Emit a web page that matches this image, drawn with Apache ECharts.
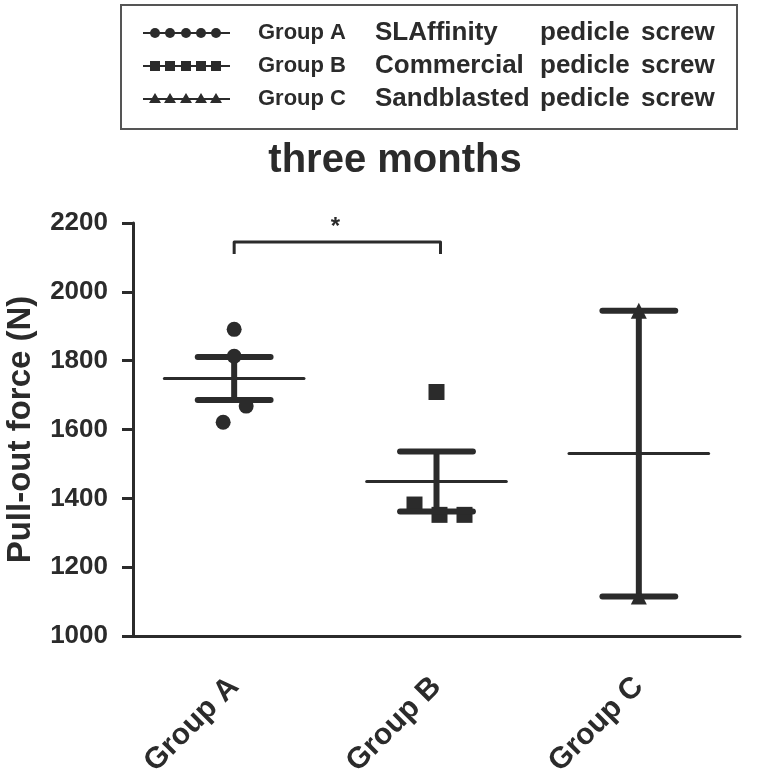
<!DOCTYPE html>
<html>
<head>
<meta charset="utf-8">
<script src="https://cdn.jsdelivr.net/npm/echarts@6/dist/echarts.min.js"></script>
<style>html,body{margin:0;padding:0;background:#fff}#c{width:757px;height:773px}</style>
</head>
<body>
<div id="c"></div>
<script>
// ---- data ----
const categories = ['Group A', 'Group B', 'Group C'];
const groupA = [1891, 1813, 1668, 1621];
const groupB = [1709, 1382, 1352, 1352];
const groupC = [1945, 1115];
const yMin = 1000, yMax = 2200, yStep = 200;
const legendGroups = ['Group A', 'Group B', 'Group C'];
const legendNames = ['SLAffinity', 'Commercial', 'Sandblasted'];
const legendTail1 = 'pedicle';
const legendTail2 = 'screw';
const chartTitle = 'three months';
const yTitle = 'Pull-out force (N)';
const sigFrom = 'Group A', sigTo = 'Group B', sigValue = 2145, sigLabel = '*';

// ---- style ----
const INK = '#2b2b2b';
const FONT = '"Liberation Sans", Arial, Helvetica, sans-serif';
const jitter = [[0, 0, 12, -11], [0, -22, 3, 28], [0, 0]];
const symbols = ['circle', 'rect', 'triangle'];
const symSizes = [15, 16, 16];

const groups = [groupA, groupB, groupC];
function meanSem(arr) {
  const n = arr.length;
  const m = arr.reduce((a, b) => a + b, 0) / n;
  const sd = Math.sqrt(arr.reduce((a, b) => a + (b - m) * (b - m), 0) / (n - 1));
  return [m, sd / Math.sqrt(n)];
}
const stats = groups.map((g, i) => { const s = meanSem(g); return [i, s[0], s[1]]; });

const scatterSeries = groups.map((g, gi) => ({
  type: 'scatter',
  name: categories[gi],
  symbol: symbols[gi],
  symbolSize: symSizes[gi],
  itemStyle: { color: INK, opacity: 1 },
  emphasis: { disabled: true },
  z: 3,
  data: g.map((v, i) => ({ value: [gi, v], symbolOffset: [jitter[gi][i], 0] }))
}));

const errSeries = {
  type: 'custom',
  z: 4,
  data: stats,
  renderItem: function (params, api) {
    const x = api.value(0), m = api.value(1), s = api.value(2);
    const c = api.coord([x, m]);
    const hi = api.coord([x, m + s]);
    const lo = api.coord([x, m - s]);
    const band = api.size([1, 0])[0];
    const mh = band * 0.345, ch = band * 0.18;
    const st = { stroke: INK, lineWidth: 6, lineCap: 'round' };
    return {
      type: 'group',
      children: [
        { type: 'line', shape: { x1: c[0] - mh, y1: c[1], x2: c[0] + mh, y2: c[1] }, style: { stroke: INK, lineWidth: 3, lineCap: 'round' } },
        { type: 'line', shape: { x1: c[0], y1: hi[1], x2: c[0], y2: lo[1] }, style: { stroke: INK, lineWidth: 6 } },
        { type: 'line', shape: { x1: c[0] - ch, y1: hi[1], x2: c[0] + ch, y2: hi[1] }, style: st },
        { type: 'line', shape: { x1: c[0] - ch, y1: lo[1], x2: c[0] + ch, y2: lo[1] }, style: st }
      ]
    };
  }
};

const sigSeries = {
  type: 'custom',
  z: 5,
  data: [[categories.indexOf(sigFrom), categories.indexOf(sigTo), sigValue]],
  renderItem: function (params, api) {
    const a = api.coord([api.value(0), api.value(2)]);
    const b = api.coord([api.value(1), api.value(2)]);
    const drop = 12;
    return {
      type: 'group',
      children: [
        { type: 'polyline', shape: { points: [[a[0], a[1] + drop], [a[0], a[1]], [b[0] + 4, b[1]], [b[0] + 4, b[1] + drop]] },
          style: { stroke: INK, lineWidth: 3, fill: null, lineJoin: 'round', lineCap: 'butt' } },
        { type: 'text', x: (a[0] + b[0]) / 2, y: a[1] - 3,
          style: { text: sigLabel, fill: INK, font: 'bold 24px ' + FONT, align: 'center', verticalAlign: 'bottom' } }
      ]
    };
  }
};

// legend graphics
const legendRows = [33, 66, 99];
const legendEls = [{
  type: 'rect', shape: { x: 121, y: 5, width: 616, height: 124 },
  style: { fill: 'none', stroke: '#555', lineWidth: 2 }
}];
legendGroups.forEach((g, i) => {
  const y = legendRows[i];
  legendEls.push({ type: 'line', shape: { x1: 143, y1: y, x2: 230, y2: y }, style: { stroke: INK, lineWidth: 2 } });
  [155, 170, 186, 201, 216].forEach(x => {
    if (i === 0) legendEls.push({ type: 'circle', shape: { cx: x, cy: y, r: 5 }, style: { fill: INK } });
    else if (i === 1) legendEls.push({ type: 'rect', shape: { x: x - 5, y: y - 5, width: 10, height: 10 }, style: { fill: INK } });
    else legendEls.push({ type: 'polygon', shape: { points: [[x, y - 6], [x - 6, y + 4], [x + 6, y + 4]] }, style: { fill: INK } });
  });
  legendEls.push({ type: 'text', x: 258, y: y, style: { text: g, fill: INK, font: 'bold 22px ' + FONT, verticalAlign: 'middle' } });
  legendEls.push({ type: 'text', x: 375, y: y, style: { text: legendNames[i], fill: INK, font: 'bold 26px ' + FONT, verticalAlign: 'middle' } });
  legendEls.push({ type: 'text', x: 540, y: y, style: { text: legendTail1, fill: INK, font: 'bold 26px ' + FONT, verticalAlign: 'middle' } });
  legendEls.push({ type: 'text', x: 641, y: y, style: { text: legendTail2, fill: INK, font: 'bold 26px ' + FONT, verticalAlign: 'middle' } });
});
legendEls.push({ type: 'text', x: 395, y: 161, style: { text: chartTitle, fill: INK, font: 'bold 40px ' + FONT, align: 'center', verticalAlign: 'middle' } });

const chart = echarts.init(document.getElementById('c'));
chart.setOption({
  backgroundColor: '#fff',
  animation: false,
  grid: { left: 133, right: 17, top: 223, bottom: 137, containLabel: false, outerBoundsMode: 'none' },
  xAxis: {
    type: 'category',
    data: categories,
    axisLine: { lineStyle: { color: INK, width: 3 } },
    axisTick: { alignWithLabel: true, length: 15, lineStyle: { color: INK, width: 3 } },
    axisLabel: { rotate: 45, margin: 46, color: INK, fontSize: 30, fontWeight: 'bold', fontFamily: FONT },
    splitLine: { show: false }
  },
  yAxis: {
    type: 'value',
    min: yMin, max: yMax, interval: yStep,
    name: yTitle,
    nameLocation: 'middle',
    nameGap: 96,
    nameRotate: 90,
    nameTextStyle: { color: INK, fontSize: 33, fontWeight: 'bold', fontFamily: FONT },
    axisLine: { show: true, lineStyle: { color: INK, width: 3 } },
    axisTick: { show: true, length: 11, lineStyle: { color: INK, width: 3 } },
    axisLabel: { margin: 25, color: INK, fontSize: 26, fontWeight: 'bold', fontFamily: FONT, formatter: v => String(v) },
    splitLine: { show: false }
  },
  graphic: legendEls,
  series: [...scatterSeries, errSeries, sigSeries]
});
</script>
</body>
</html>
